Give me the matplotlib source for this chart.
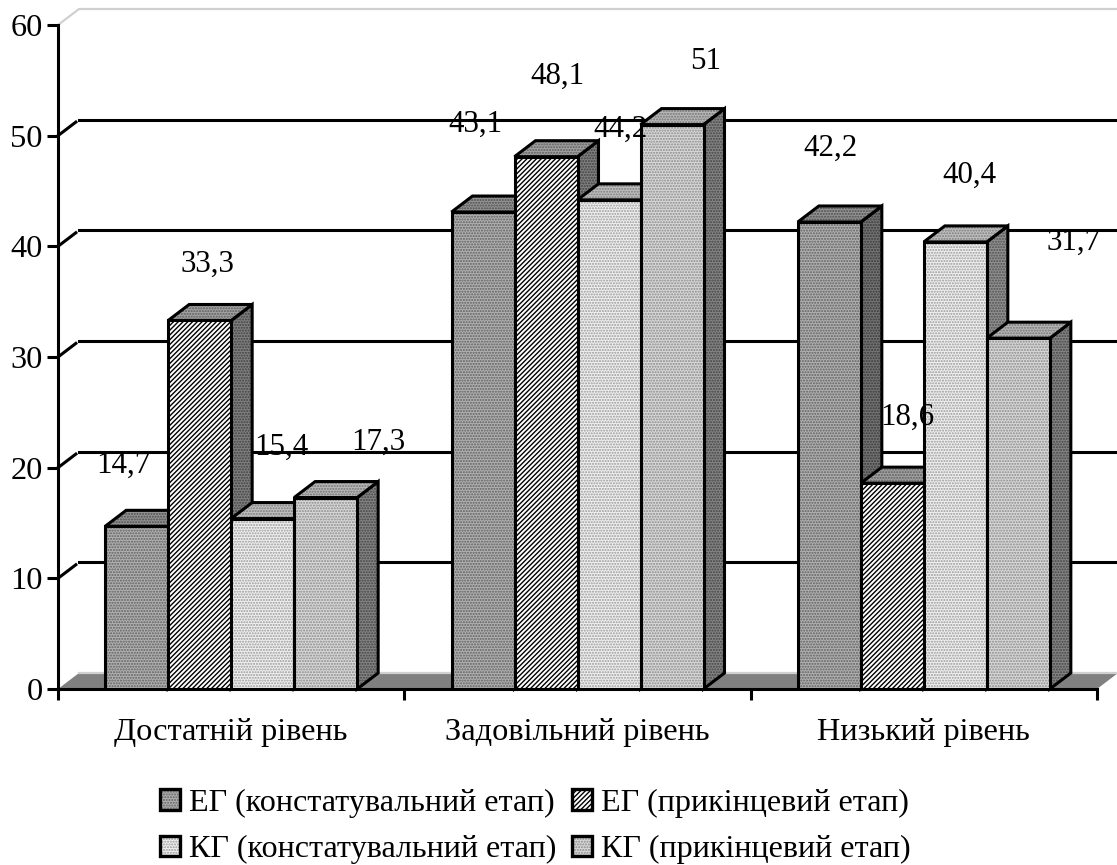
import matplotlib
matplotlib.use("Agg")
import matplotlib.pyplot as plt
from matplotlib.legend_handler import HandlerTuple
from matplotlib.patches import Patch, Polygon

categories = ["Достатній рівень", "Задовільний рівень", "Низький рівень"]
series_names = ["ЕГ (констатувальний етап)", "ЕГ (прикінцевий етап)",
                "КГ (констатувальний етап)", "КГ (прикінцевий етап)"]
eg_start = [14.7, 43.1, 42.2]
eg_final = [33.3, 48.1, 18.6]
kg_start = [15.4, 44.2, 40.4]
kg_final = [17.3, 51, 31.7]
series = [eg_start, eg_final, kg_start, kg_final]
y_ticks = [0, 10, 20, 30, 40, 50, 60]

# label offsets from the bar's front top centre, pixels (as placed in the original)
label_dx = [[-13, 8, 19, 53], [-8, 11, 11, 34], [1, 15, 14, 55]]
label_dy = [[61, 56, 71, 55], [88, 80, 71, 63], [74, 66, 67, 96]]

W, H = 1117, 865
L, R, B, T = 58, 1097, 689, 25
DX = 21 / (R - L) * 3       # 3D depth in data units
DY = 16 / (B - T) * 60
BAR = 63 / (R - L) * 3
LW = 2.2

# front fill, hatch colour, hatch for each series
styles = [("#b0b0b0", "#606060", "......"),
          ("#ffffff", "#000000", "///////"),
          ("#f0f0f0", "#999999", "......"),
          ("#d8d8d8", "#8a8a8a", "......")]
top_styles = [("#949494", "#4c4c4c", "......"),
              ("#a2a2a2", "#5c5c5c", "......"),
              ("#c0c0c0", "#7c7c7c", "......"),
              ("#b8b8b8", "#747474", "......")]
side_styles = [("#747474", "#383838", "......"),
               ("#808080", "#404040", "......"),
               ("#909090", "#505050", "......"),
               ("#848484", "#444444", "......")]

plt.rcParams["font.family"] = ["Liberation Serif", "DejaVu Serif"]
plt.rcParams["font.size"] = 23.3
plt.rcParams["hatch.linewidth"] = 1.0

fig = plt.figure(figsize=(W / 100, H / 100), dpi=100)
ax = fig.add_axes([L / W, 1 - B / H, (R - L) / W, (B - T) / H])
ax.set_xlim(0, 3)
ax.set_ylim(0, 60)
ax.patch.set_visible(False)
for s in ("top", "right"):
    ax.spines[s].set_visible(False)
for s in ("left", "bottom"):
    ax.spines[s].set_linewidth(LW)
    ax.spines[s].set_zorder(200)

ax.set_yticks(y_ticks)
ax.set_xticks([0, 1, 2, 3])
ax.set_xticklabels([])
ax.set_xticks([0.5, 1.5, 2.5], categories, minor=True)
ax.tick_params(axis="both", which="major", width=LW, length=8, pad=3)
ax.tick_params(axis="x", which="minor", length=0, pad=21)

# walls and floor
ax.add_patch(Polygon([(0, 0), (DX, DY), (3 + DX, DY), (3, 0)], fc="#808080", ec="none",
                     clip_on=False, zorder=1))
ax.plot([0, DX, 3 + DX], [60, 60 + DY, 60 + DY], color="#d0d0d0", lw=1.6, clip_on=False, zorder=1)
ax.plot([DX, 3 + DX], [DY, DY], color="#d0d0d0", lw=1.6, clip_on=False, zorder=1)
for v in y_ticks[1:-1]:
    ax.plot([0, DX * 0.85], [v, v + DY * 0.85], color="k", lw=LW, clip_on=False, zorder=2)
    ax.plot([DX, 3 + DX], [v + DY, v + DY], color="k", lw=LW, clip_on=False, zorder=2)


def face(pts, style, z):
    fc, hc, hatch = style
    ax.add_patch(Polygon(pts, fc=fc, ec=hc, lw=0, hatch=hatch, clip_on=False, zorder=z))
    ax.add_patch(Polygon(pts, fill=False, ec="k", lw=LW, clip_on=False, joinstyle="miter", zorder=z + 0.1))


z = 10
for g in range(3):
    x0 = g + 0.5 - 2 * BAR
    for i, vals in enumerate(series):
        v = vals[g]
        x = x0 + i * BAR
        face([(x + BAR, 0), (x + BAR + DX, DY), (x + BAR + DX, v + DY), (x + BAR, v)], side_styles[i], z)
        face([(x, v), (x + DX, v + DY), (x + BAR + DX, v + DY), (x + BAR, v)], top_styles[i], z + 1)
        fc, hc, hatch = styles[i]
        ax.bar(x + BAR / 2, v, BAR, facecolor=fc, edgecolor=hc, linewidth=0, hatch=hatch, zorder=z + 2)
        ax.bar(x + BAR / 2, v, BAR, fill=False, edgecolor="k", linewidth=LW, zorder=z + 3)
        z += 4

for g in range(3):
    x0 = g + 0.5 - 2 * BAR
    for i, vals in enumerate(series):
        ax.annotate(f"{vals[g]:g}".replace(".", ","), (x0 + (i + 0.5) * BAR, vals[g]),
                    xytext=(label_dx[g][i], label_dy[g][i]), textcoords="offset pixels",
                    ha="center", va="center", fontsize=22.3, zorder=300, annotation_clip=False)

handles = []
for st in styles:
    handles.append((Patch(facecolor=st[0], edgecolor=st[1], linewidth=0, hatch=st[2]),
                    Patch(fill=False, edgecolor="k", linewidth=2.4)))
# matplotlib fills legend columns first, the original reads row by row
order = [0, 2, 1, 3]
ax.legend([handles[i] for i in order], [series_names[i] for i in order],
          handler_map={tuple: HandlerTuple(ndivide=1, pad=0)},
          ncols=2, loc="upper left", bbox_to_anchor=(160 / W, 1 - 789 / H),
          bbox_transform=fig.transFigure, frameon=False, fontsize=23.1,
          handlelength=0.62, handleheight=0.62,
          handletextpad=0.28, columnspacing=0.5, labelspacing=0.536, borderpad=0, borderaxespad=0)

fig.savefig("out.png", dpi=100)
